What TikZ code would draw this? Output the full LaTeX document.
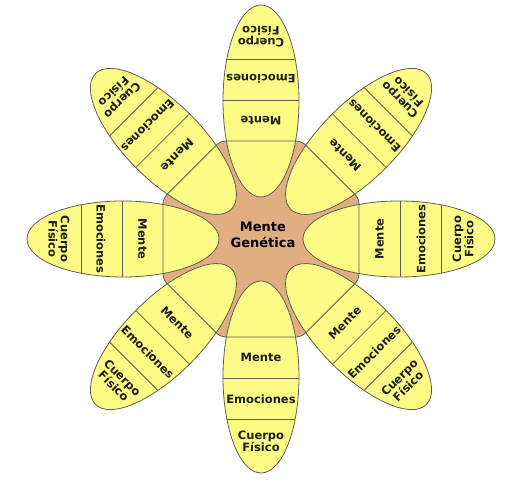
\documentclass[tikz,border=0pt]{standalone}
\usepackage{fontspec}
\setmainfont{DejaVu Sans}
\definecolor{petalc}{RGB}{252,251,133}
\definecolor{corec}{RGB}{225,174,130}
\definecolor{linec}{RGB}{95,95,85}
\definecolor{txtc}{RGB}{30,30,25}
\begin{document}
\begin{tikzpicture}[x=1pt,y=1pt,
  lab/.style={font=\bfseries\fontsize{11.5}{12.3}\selectfont, text=txtc, align=center, inner sep=0pt},
  petal/.style={fill=petalc, draw=linec, line width=0.8pt},
  divline/.style={draw=linec, line width=0.8pt}]
\useasboundingbox (-261,-242) rectangle (264,239);
\fill[corec, rounded corners=5pt] (22.5:106) -- (67.5:106) -- (112.5:106) -- (157.5:106) -- (202.5:106) -- (247.5:106) -- (292.5:106) -- (337.5:106) -- cycle;
\foreach \a [count=\i] in {90,45,0,-45,-90,-135,180,135} {
  \begin{scope}[rotate=\a]
    \filldraw[petal] (138,0) ellipse (96 and 38);
    \clip (138,0) ellipse (96 and 38);
    \draw[divline] (139,-40) -- (139,40) (180,-40) -- (180,40);
  \end{scope}
  \node[lab, rotate=\a+90] (m\i) at (\a:118.5) {Mente};
  \node[lab, rotate=\a+90] (e\i) at (\a:160) {Emociones};
  \node[lab, rotate=\a+90] (f\i) at (\a:202) {Cuerpo\\Físico};
}
\draw[divline, rounded corners=5pt] (22.5:106) -- (67.5:106) -- (112.5:106) -- (157.5:106) -- (202.5:106) -- (247.5:106) -- (292.5:106) -- (337.5:106) -- cycle;
\node[font=\bfseries\fontsize{13}{16.5}\selectfont, align=center, text=black, inner sep=0pt] (c) at (2,4) {Mente\\Genética};
\end{tikzpicture}
\end{document}
